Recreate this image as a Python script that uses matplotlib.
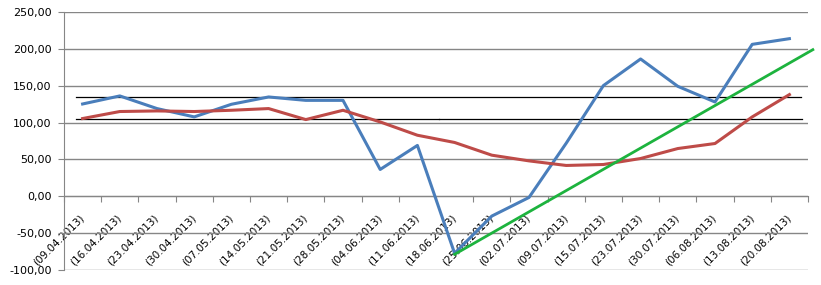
import matplotlib
matplotlib.use("Agg")
import matplotlib.pyplot as plt
from matplotlib.ticker import FuncFormatter, MultipleLocator

dates = ["09.04.2013", "16.04.2013", "23.04.2013", "30.04.2013", "07.05.2013",
         "14.05.2013", "21.05.2013", "28.05.2013", "04.06.2013", "11.06.2013",
         "18.06.2013", "25.06.2013", "02.07.2013", "09.07.2013", "15.07.2013",
         "23.07.2013", "30.07.2013", "06.08.2013", "13.08.2013", "20.08.2013"]
tick_labels = ["(" + d + ")" for d in dates]

blue = [125.1, 136.0, 118.9, 107.6, 124.7, 134.6, 130.0, 130.0, 36.5, 69.0,
        -77.0, -26.6, -1.4, 72.0, 150.0, 186.0, 149.0, 127.8, 205.8, 213.5]
red = [105.4, 114.9, 115.7, 114.9, 116.6, 118.9, 104.0, 116.6, 100.8, 82.8,
       73.0, 55.8, 48.1, 41.9, 43.2, 51.3, 64.8, 71.6, 107.6, 137.8]

# green trend segment (start index/value, end index/value)
green_x = [10.0, 19.63]
green_y = [-78.4, 198.6]

# black horizontal reference lines
upper_x = [-0.18, 19.3]
upper_y = [135.1, 135.1]
lower1_x = [-0.18, 9.58]
lower1_y = [105.4, 105.4]
lower2_x = [9.58, 19.34]
lower2_y = [104.5, 104.5]

fig = plt.figure(figsize=(8.21, 2.85), dpi=100)
ax = fig.add_axes([64/821, 1-270.3/285, (808-64)/821, (270.3-11.7)/285])

x = list(range(len(dates)))
ax.set_xlim(-0.5, len(dates) - 0.5)
ax.set_ylim(-100, 250)

ax.yaxis.set_major_locator(MultipleLocator(50))
ax.yaxis.set_major_formatter(FuncFormatter(lambda v, p: f"{v:.2f}".replace(".", ",")))
ax.grid(axis="y", color="#868686", linewidth=1.0)
ax.set_axisbelow(True)

for s in ["top", "right"]:
    ax.spines[s].set_visible(False)
ax.spines["left"].set_color("#868686")
ax.spines["bottom"].set_color("#868686")
ax.spines["bottom"].set_position(("data", 0))

ax.set_xticks([i - 0.5 for i in range(len(dates) + 1)], minor=False)
ax.set_xticklabels([""] * (len(dates) + 1))
ax.set_xticks(x, minor=True)
ax.set_xticklabels(tick_labels, minor=True, rotation=45, ha="right",
                   va="center", rotation_mode="anchor", fontsize=7.5)
ax.tick_params(axis="x", which="major", direction="out", length=4, color="#868686")
ax.tick_params(axis="x", which="minor", length=0, pad=14)
ax.tick_params(axis="y", direction="out", length=4, color="#868686", labelsize=8, pad=5)

ax.plot(upper_x, upper_y, color="black", linewidth=0.9, zorder=3)
ax.plot(lower1_x, lower1_y, color="black", linewidth=0.9, zorder=3)
ax.plot(lower2_x, lower2_y, color="black", linewidth=0.9, zorder=3)

ax.plot(x, blue, color="#4A7EBB", linewidth=2.2, zorder=4, solid_joinstyle="round")
ax.plot(x, red, color="#BE4B48", linewidth=2.2, zorder=4, solid_joinstyle="round")
ax.plot(green_x, green_y, color="#1DB33E", linewidth=2.0, zorder=5, clip_on=False)

fig.savefig("out.png", dpi=100)
